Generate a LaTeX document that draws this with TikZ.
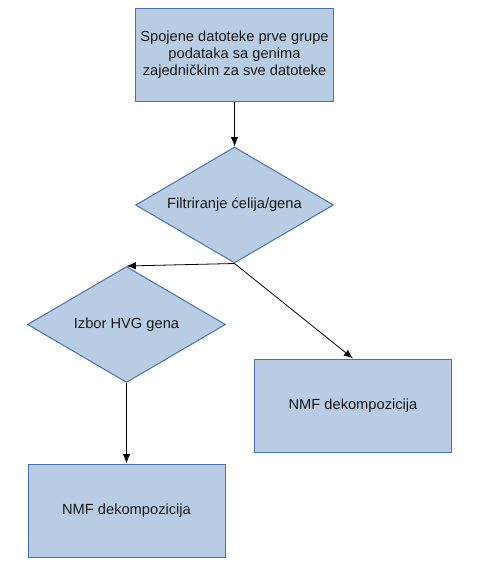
\documentclass[tikz,border=0pt]{standalone}
\usepackage{fontspec}
\setmainfont{Liberation Sans}
\usepackage{xcolor}
\usetikzlibrary{shapes,arrows,arrows.meta,positioning}
\definecolor{boxfill}{RGB}{184,204,228}
\definecolor{boxline}{RGB}{70,114,176}

\begin{document}
\begin{tikzpicture}[x = .75pt, y = -.75pt]
\tikzstyle{blk}=[draw = boxline, fill = boxfill, line width = .75pt, minimum width = 147.75pt, minimum height = 69.75pt, align = center, text = black!90, font = \fontsize{11}{12.75}\selectfont]
\tikzstyle{dec}=[diamond, draw = boxline, fill = boxfill, line width = .75pt, minimum width = 148.5pt, minimum height = 87pt, shape aspect = 1.7, inner sep = 0pt, text = black!90, font = \fontsize{11}{12.75}\selectfont]
\tikzstyle{arr}=[-{Latex[length=7pt, width=5.5pt]}, line width = .6pt]

\useasboundingbox (0,0) rectangle (481,564);

\node[blk] (S) at (234.5,54.5) {Spojene datoteke prve grupe\\ podataka sa genima\\ zajedničkim za sve datoteke};
\node[dec] (F) at (234.5,205) {Filtriranje ćelija/gena};
\node[dec] (H) at (126.5,324.5) {Izbor HVG gena};
\node[blk] (N1) at (353,405.5) {NMF dekompozicija};
\node[blk] (N2) at (126.5,510.5) {NMF dekompozicija};

\draw[arr] (S) -- (F);
\draw[arr] (F.south) -- (H.north);
\draw[arr] (F.south) -- (N1.north);
\draw[arr] (H) -- (N2);
\end{tikzpicture}
\end{document}
